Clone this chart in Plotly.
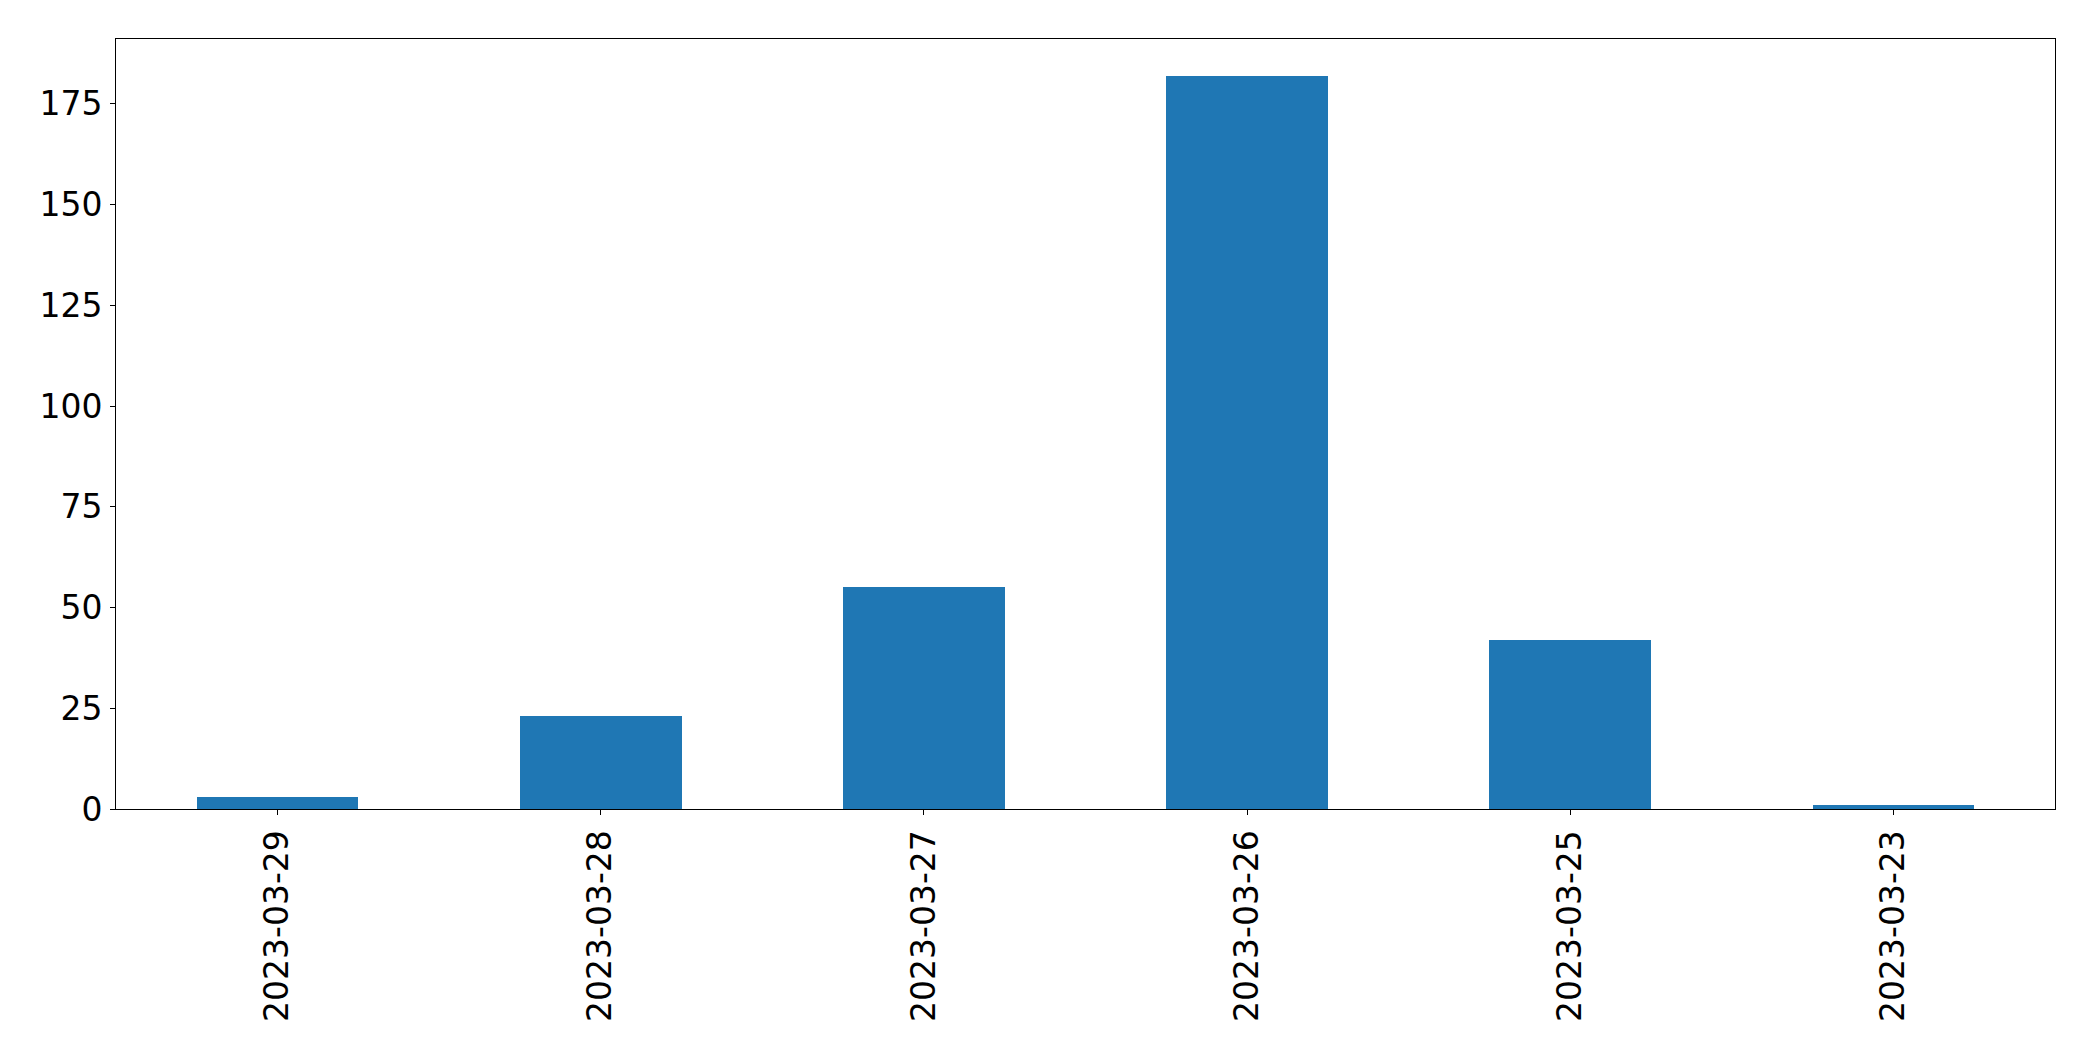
import plotly.graph_objects as go

dates = ["2023-03-29", "2023-03-28", "2023-03-27", "2023-03-26", "2023-03-25", "2023-03-23"]
counts = [3, 23, 55, 182, 42, 1]
y_ticks = [0, 25, 50, 75, 100, 125, 150, 175]

fig = go.Figure()
fig.add_trace(go.Bar(x=dates, y=counts, marker=dict(color="#1f77b4", line=dict(width=0)), width=0.5))

fig.update_layout(
    width=2093, height=1061,
    margin=dict(l=108, r=46, t=31, b=260),
    paper_bgcolor="white", plot_bgcolor="white",
    font=dict(family="DejaVu Sans", size=33, color="black"),
    showlegend=False,
    bargap=0,
)
fig.update_xaxes(
    type="category", range=[-0.5, 5.5], tickangle=-90,
    ticks="outside", ticklen=5, tickwidth=1, tickcolor="black",
    showline=True, linecolor="black", linewidth=1, mirror=True,
    showgrid=False, zeroline=False, ticklabelstandoff=2, automargin=False,
)
fig.update_yaxes(
    range=[0, 191.1], tickvals=y_ticks,
    ticks="outside", ticklen=5, tickwidth=1, tickcolor="black",
    showline=True, linecolor="black", linewidth=1, mirror=True,
    showgrid=False, zeroline=False, ticklabelstandoff=1, automargin=False,
)
fig.write_html("out.html")
